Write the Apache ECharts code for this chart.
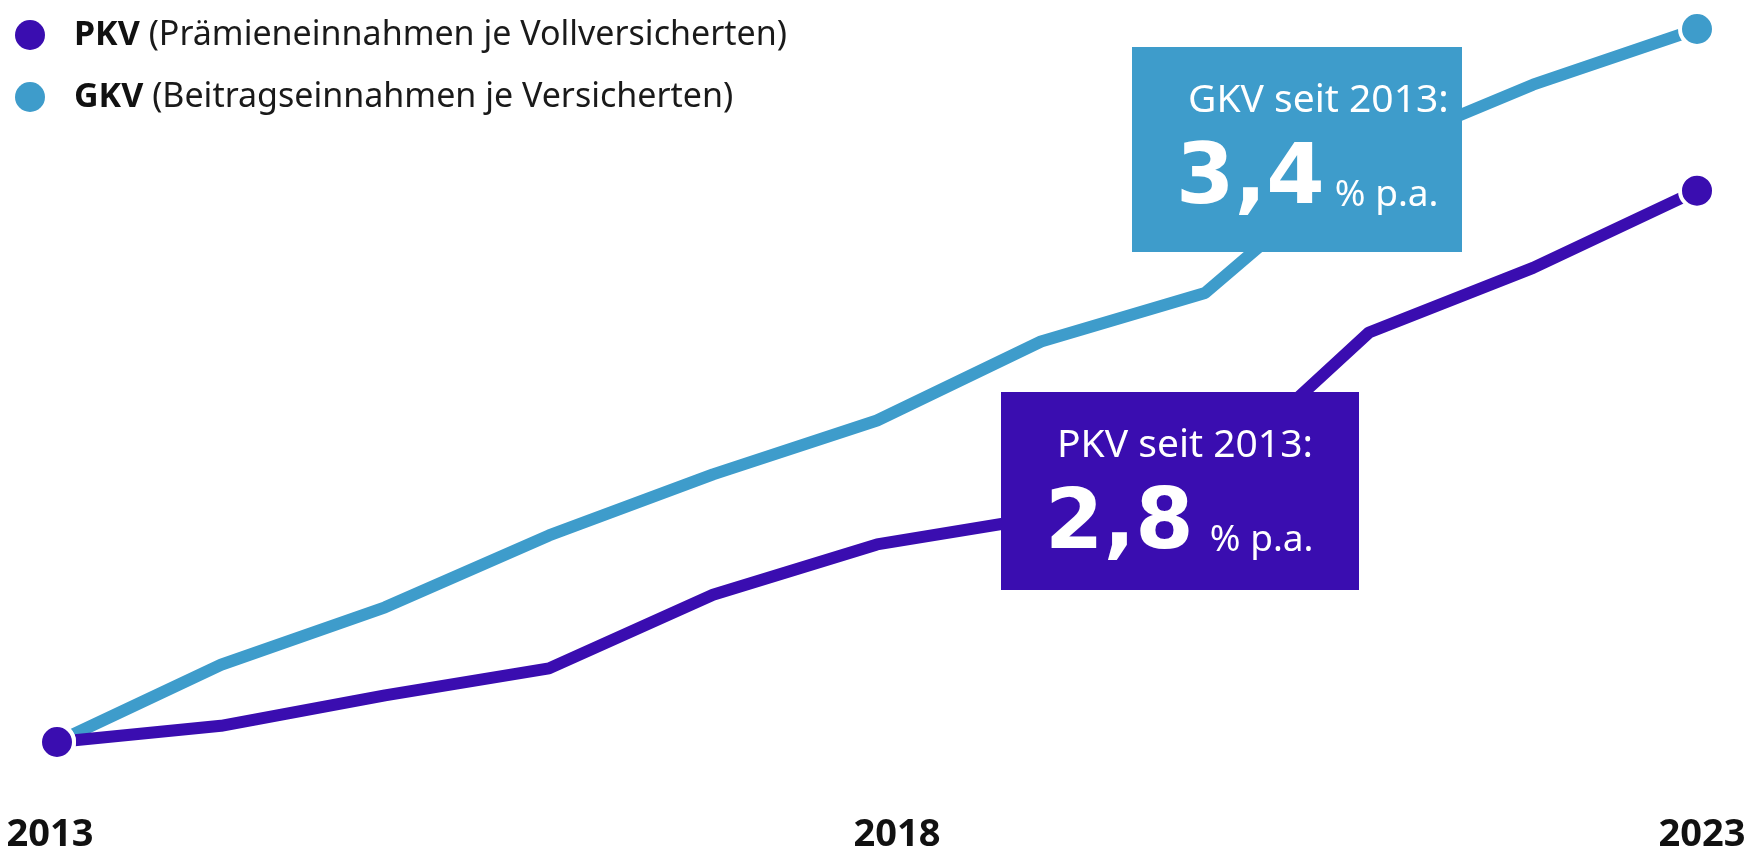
<!DOCTYPE html>
<html>
<head>
<meta charset="utf-8">
<title>PKV / GKV</title>
<script src="https://cdn.jsdelivr.net/npm/echarts@6/dist/echarts.min.js"></script>
<style>
  html, body { margin: 0; padding: 0; background: #fff; }
  #chart { width: 1754px; height: 856px; }
</style>
</head>
<body>
<div id="chart"></div>
<script>
// Index 2013 = 100
const years = ['2013', '2014', '2015', '2016', '2017', '2018', '2019', '2020', '2021', '2022', '2023']
const pkvValues = [100, 100.9, 102.6, 104.1, 108.2, 111.0, 112.5, 114.4, 122.8, 126.4, 130.7]
const gkvValues = [100, 104.3, 107.5, 111.5, 114.9, 117.9, 122.3, 125.0, 132.8, 136.6, 139.7]

const legendNames = ['PKV', 'GKV']
const legendNotes = ['(Prämieneinnahmen je Vollversicherten)', '(Beitragseinnahmen je Versicherten)']

const boxTitles = ['PKV seit 2013:', 'GKV seit 2013:']
const boxRates = ['2,8', '3,4']

const PKV_COLOR = '#3A0DB0'
const GKV_COLOR = '#3E9CCB'
const FONT = '"Noto Sans", sans-serif'

// nur Anfangs- und Endpunkt bekommen einen Kreis
function withEnds(values) {
  return values.map((v, i) => ({
    value: v,
    symbol: (i === 0 || i === values.length - 1) ? 'circle' : 'none'
  }))
}

function lineSeries(name, values, color) {
  return {
    name: name,
    type: 'line',
    data: withEnds(values),
    symbolSize: 34,
    showSymbol: true,
    showAllSymbol: true,
    itemStyle: { color: color, borderColor: '#fff', borderWidth: 4 },
    lineStyle: { color: color, width: 12 },
    emphasis: { disabled: true }
  }
}

function rateBox(x, y, w, h, color, title, rate, gap) {
  return {
    type: 'group',
    x: x,
    y: y,
    z: 100,
    children: [
      { type: 'rect', z: 100, shape: { x: 0, y: 0, width: w, height: h }, style: { fill: color } },
      {
        type: 'text',
        z: 101,
        x: 56,
        y: 54,
        style: { text: title, fill: '#fff', font: 'normal 39px ' + FONT, verticalAlign: 'middle' }
      },
      {
        type: 'text',
        z: 101,
        x: 44,
        y: 134,
        style: {
          text: '{big|' + rate + '}{small|% p.a.}',
          fill: '#fff',
          verticalAlign: 'middle',
          rich: {
            big: { fontFamily: '"DejaVu Sans"', fontWeight: 'bold', fontSize: 84, lineHeight: 90, fill: '#fff' },
            small: { fontFamily: FONT, fontSize: 37, fill: '#fff', verticalAlign: 'bottom', padding: [0, 0, 12, gap] }
          }
        }
      }
    ]
  }
}

const chart = echarts.init(document.getElementById('chart'))

const option = {
  animation: false,
  backgroundColor: '#fff',
  grid: { left: 57, right: 57, top: 29, bottom: 114 },
  legend: {
    data: legendNames,
    orient: 'vertical',
    left: 10,
    top: 10,
    icon: 'circle',
    itemWidth: 30,
    itemHeight: 30,
    itemGap: 22,
    itemStyle: { borderWidth: 0 },
    selectedMode: false,
    formatter: name => '{b|' + name + '} ' + legendNotes[legendNames.indexOf(name)],
    textStyle: {
      fontFamily: FONT,
      fontSize: 34,
      color: '#1a1a1a',
      lineHeight: 40,
      padding: [0, 0, 0, 24],
      rich: {
        b: { fontFamily: FONT, fontSize: 34, fontWeight: 'bold', color: '#111', lineHeight: 40 }
      }
    }
  },
  xAxis: {
    type: 'category',
    data: years,
    boundaryGap: false,
    axisLine: { show: false },
    axisTick: { show: false },
    splitLine: { show: false },
    axisLabel: {
      interval: 4,
      margin: 74,
      fontFamily: FONT,
      fontSize: 38,
      fontWeight: 'bold',
      color: '#111',
      // Beschriftungen sitzen im Original leicht versetzt zur Stützstelle
      formatter: v => v === '2018' ? '{r|' + v + '}' : v === '2013' ? '{l|' + v + '}' : '{e|' + v + '}',
      rich: {
        l: { fontFamily: FONT, fontSize: 38, fontWeight: 'bold', color: '#111', padding: [0, 14, 0, 0] },
        r: { fontFamily: FONT, fontSize: 38, fontWeight: 'bold', color: '#111', padding: [0, 0, 0, 40] },
        e: { fontFamily: FONT, fontSize: 38, fontWeight: 'bold', color: '#111', padding: [0, 0, 0, 10] }
      }
    }
  },
  yAxis: {
    type: 'value',
    min: 100,
    max: 139.7,
    show: false
  },
  series: [
    lineSeries('GKV', gkvValues, GKV_COLOR),
    lineSeries('PKV', pkvValues, PKV_COLOR)
  ],
  graphic: [
    rateBox(1001, 392, 358, 198, PKV_COLOR, boxTitles[0], boxRates[0], 16),
    rateBox(1132, 47, 330, 205, GKV_COLOR, boxTitles[1], boxRates[1], 10)
  ]
}

chart.setOption(option)
</script>
</body>
</html>
